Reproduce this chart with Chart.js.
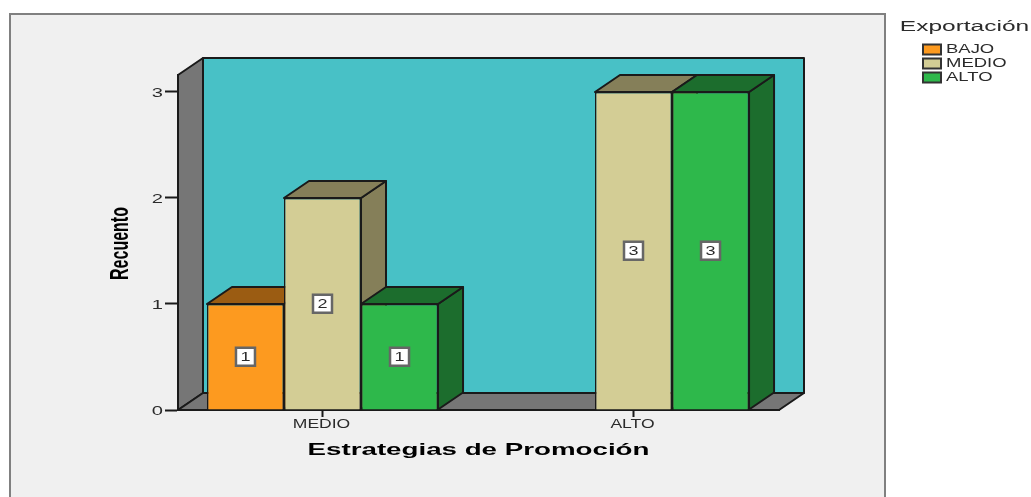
<!DOCTYPE html>
<html lang="es">
<head>
<meta charset="utf-8">
<title>Exportación por Estrategias de Promoción</title>
<script src="https://cdn.jsdelivr.net/npm/chart.js@4"></script>
<style>
    html, body { margin: 0; background: #fff; }
    canvas { display: block; }
</style>
</head>
<body>
<canvas id="graficoRecuento" width="1031" height="497"></canvas>
<script>
const categorias = ['MEDIO', 'ALTO']
const serieBajo = [1, null]
const serieMedio = [2, 3]
const serieAlto = [1, 3]
const marcasY = [0, 1, 2, 3]

const nombresSeries = ['BAJO', 'MEDIO', 'ALTO']
const coloresFrente = ['#fd9a1f', '#d3cd95', '#2eb84b']
const coloresSombra = ['#9b5c12', '#857f59', '#1c6d2d']

const TINTA = '#1a1a1a'
const TEXTO = '#2b2b2b'
const fondoX = 25   // desplazamiento de la profundidad
const fondoY = 17

// texto ensanchado: sx y sy escalan a lo largo y a lo alto del texto
function textoEstirado(ctx, texto, x, y, fuente, sx, sy = 1, angulo = 0, alinear = 'center') {
    ctx.save()
    ctx.translate(x, y)
    ctx.rotate(angulo)
    ctx.scale(sx, sy)
    ctx.font = fuente
    ctx.textAlign = alinear
    ctx.textBaseline = 'middle'
    ctx.fillText(texto, 0, 0)
    ctx.restore()
}

function poligono(ctx, puntos, relleno) {
    ctx.beginPath()
    puntos.forEach(([x, y], i) => i ? ctx.lineTo(x, y) : ctx.moveTo(x, y))
    ctx.closePath()
    ctx.fillStyle = relleno
    ctx.fill()
    ctx.strokeStyle = TINTA
    ctx.lineWidth = 2
    ctx.stroke()
}

// panel gris y paredes de la caja 3D
const cajaFondo = {
    id: 'cajaFondo',
    beforeDraw(chart) {
        const { ctx, chartArea: { left, right, top, bottom } } = chart
        ctx.save()
        ctx.fillStyle = '#f0f0f0'
        ctx.strokeStyle = '#808080'
        ctx.lineWidth = 2
        ctx.fillRect(10, 14, 875, 490)
        ctx.strokeRect(10, 14, 875, 490)
        ctx.lineJoin = 'round'
        poligono(ctx, [[left + fondoX, top - fondoY], [right + fondoX, top - fondoY], [right + fondoX, bottom - fondoY], [left + fondoX, bottom - fondoY]], '#48c1c6')
        poligono(ctx, [[left, top], [left + fondoX, top - fondoY], [left + fondoX, bottom - fondoY], [left, bottom]], '#767676')
        poligono(ctx, [[left, bottom], [left + fondoX, bottom - fondoY], [right + fondoX, bottom - fondoY], [right, bottom]], '#767676')
        ctx.restore()
    }
}

// caras superior y lateral de cada barra, antes de los frentes
const carasBarras = {
    id: 'carasBarras',
    beforeDatasetsDraw(chart) {
        const { ctx } = chart
        ctx.save()
        ctx.lineJoin = 'round'
        chart.data.datasets.forEach((ds, i) => {
            chart.getDatasetMeta(i).data.forEach((barra, j) => {
                if (ds.data[j] == null) return
                const { x, y, base, width } = barra.getProps(['x', 'y', 'base', 'width'])
                const izq = x - width / 2
                const der = x + width / 2
                poligono(ctx, [[der, y], [der + fondoX, y - fondoY], [der + fondoX, base - fondoY], [der, base]], coloresSombra[i])
                poligono(ctx, [[izq, y], [izq + fondoX, y - fondoY], [der + fondoX, y - fondoY], [der, y]], coloresSombra[i])
            })
        })
        ctx.restore()
    }
}

// etiquetas de valor, rótulos de ejes y leyenda
const textosGrafico = {
    id: 'textosGrafico',
    afterDatasetsDraw(chart) {
        const { ctx, scales: { x, y } } = chart
        ctx.save()

        chart.data.datasets.forEach((ds, i) => {
            chart.getDatasetMeta(i).data.forEach((barra, j) => {
                if (ds.data[j] == null) return
                const p = barra.getProps(['x', 'y', 'base'])
                const cy = (p.y + p.base) / 2
                ctx.fillStyle = '#ffffff'
                ctx.strokeStyle = '#666666'
                ctx.lineWidth = 2.5
                ctx.fillRect(p.x - 9.5, cy - 9, 19, 18)
                ctx.strokeRect(p.x - 9.5, cy - 9, 19, 18)
                ctx.fillStyle = TEXTO
                textoEstirado(ctx, String(ds.data[j]), p.x, cy + 0.5, '12px "Liberation Sans"', 1.5)
            })
        })

        ctx.fillStyle = TEXTO
        y.ticks.forEach(t => {
            textoEstirado(ctx, String(t.value), 163, y.getPixelForValue(t.value) + 1, '13px "Liberation Sans"', 1.55, 1, 0, 'right')
        })
        x.ticks.forEach(t => {
            textoEstirado(ctx, categorias[t.value], x.getPixelForValue(t.value) - 1, 425, '12px "Liberation Sans"', 1.46)
        })

        ctx.fillStyle = '#000000'
        textoEstirado(ctx, 'Estrategias de Promoción', 478.5, 450.5, 'bold 17px "Liberation Sans"', 1.63)
        textoEstirado(ctx, 'Recuento', 121, 243.5, 'bold 16px "Liberation Sans"', 1, 1.6, -Math.PI / 2)

        // leyenda
        ctx.fillStyle = TEXTO
        textoEstirado(ctx, 'Exportación', 964.5, 27.5, '14px "Liberation Sans"', 1.75)
        chart.data.datasets.forEach((ds, i) => {
            const fila = 49.5 + i * 14
            ctx.fillStyle = coloresFrente[i]
            ctx.strokeStyle = '#333333'
            ctx.lineWidth = 2
            ctx.fillRect(923, fila - 5, 18, 10)
            ctx.strokeRect(923, fila - 5, 18, 10)
            ctx.fillStyle = TEXTO
            textoEstirado(ctx, ds.label, 946, fila, '13px "Liberation Sans"', 1.42, 1, 0, 'left')
        })
        ctx.restore()
    }
}

new Chart(document.getElementById('graficoRecuento'), {
    type: 'bar',
    data: {
        labels: [0, 1],
        datasets: [serieBajo, serieMedio, serieAlto].map((valores, i) => ({
            label: nombresSeries[i],
            data: valores,
            backgroundColor: coloresFrente[i],
            borderColor: TINTA,
            borderWidth: 1.5
        }))
    },
    options: {
        responsive: false,
        animation: false,
        layout: { padding: { left: 178, right: 252, top: 75, bottom: 87 } },
        categoryPercentage: 0.743,
        barPercentage: 1,
        plugins: { legend: { display: false }, tooltip: { enabled: false } },
        scales: {
            x: {
                type: 'linear',
                offset: false,
                min: -0.4646,
                max: 1.4678,
                afterBuildTicks: s => { s.ticks = categorias.map((_, i) => ({ value: i })) },
                afterFit: s => { s.height = 0 },
                ticks: { display: false },
                border: { color: TINTA, width: 2 },
                grid: { offset: false, drawOnChartArea: false, tickLength: 7, color: TINTA, tickWidth: 2 }
            },
            y: {
                min: 0,
                max: 3.16,
                afterBuildTicks: s => { s.ticks = marcasY.map(v => ({ value: v })) },
                afterFit: s => { s.width = 0 },
                ticks: { display: false },
                border: { color: TINTA, width: 2 },
                grid: { drawOnChartArea: false, tickLength: 13, color: TINTA, tickWidth: 2 }
            }
        }
    },
    plugins: [cajaFondo, carasBarras, textosGrafico]
})
</script>
</body>
</html>
